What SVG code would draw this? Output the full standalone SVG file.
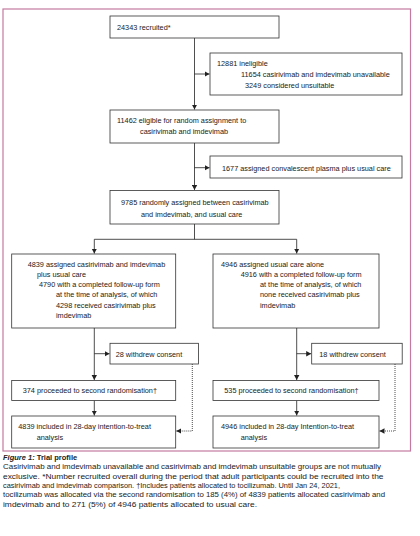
<svg xmlns="http://www.w3.org/2000/svg" width="420" height="536" viewBox="0 0 420 536">
<defs>
<marker id="ah" markerWidth="6" markerHeight="6" refX="5" refY="3" orient="auto" markerUnits="userSpaceOnUse">
<path d="M0,0.3 L5,3 L0,5.7 Z" fill="#222"/>
</marker>
<style>
.b{fill:#fff;stroke:#333;stroke-width:0.8}
.t{font-family:"Liberation Sans",Arial,sans-serif;font-size:7.3px;fill:#222}
.c{font-family:"Liberation Sans",Arial,sans-serif;font-size:7.5px;fill:#222}
.l{fill:none;stroke:#222;stroke-width:0.8}
.d{fill:none;stroke:#222;stroke-width:0.8;stroke-dasharray:1 1}
</style>
</defs>
<rect width="420" height="536" fill="#fff"/>
<rect x="3" y="9" width="407.5" height="442" fill="none" stroke="#c47a9f" stroke-width="1.2"/>
<g id="connectors">
<path class="l" d="M194.5,38 V109.5" marker-end="url(#ah)"/>
<path class="l" d="M194.5,74 H209.5" marker-end="url(#ah)"/>
<path class="l" d="M194.5,143 V190" marker-end="url(#ah)"/>
<path class="l" d="M194.5,167.7 H209.5" marker-end="url(#ah)"/>
<path class="l" d="M194.5,224 V239.3 M94.3,239.3 H296.7"/>
<path class="l" d="M94.3,239.3 V253.5" marker-end="url(#ah)"/>
<path class="l" d="M296.7,239.3 V253.5" marker-end="url(#ah)"/>
<path class="l" d="M94.3,328 V380" marker-end="url(#ah)"/>
<path class="l" d="M94.3,353.7 H109.5" marker-end="url(#ah)"/>
<path class="l" d="M296.7,328 V380" marker-end="url(#ah)"/>
<path class="l" d="M296.7,353.7 H311.2" marker-end="url(#ah)"/>
<path class="l" d="M94.3,400.5 V415.5" marker-end="url(#ah)"/>
<path class="l" d="M296.7,400.5 V415.5" marker-end="url(#ah)"/>
<path class="d" d="M192.3,364 V431 H177"/>
<path class="l" d="M180,431 H176.3" marker-end="url(#ah)"/>
<path class="d" d="M395,364 V431 H380.5"/>
<path class="l" d="M383,431 H379.5" marker-end="url(#ah)"/>
</g>
<g id="recruited">
<rect class="b" x="110" y="16" width="169" height="22"/>
<text class="t" x="117" y="29.5">24343 recruited*</text>
</g>
<g id="ineligible">
<rect class="b" x="210" y="53" width="192" height="42"/>
<text class="t" x="217" y="65.5">12881 ineligible</text>
<text class="t" x="241" y="76.5">11654 casirivimab and imdevimab unavailable</text>
<text class="t" x="245" y="87.5">3249 considered unsuitable</text>
</g>
<g id="eligible">
<rect class="b" x="110" y="110" width="169" height="33"/>
<text class="t" x="117" y="123">11462 eligible for random assignment  to</text>
<text class="t" x="140" y="134">casirivimab and imdevimab</text>
</g>
<g id="plasma">
<rect class="b" x="210" y="156" width="192" height="22"/>
<text class="t" x="222" y="170.5">1677 assigned convalescent plasma plus usual care</text>
</g>
<g id="randomised">
<rect class="b" x="110" y="190.5" width="169" height="33.5"/>
<text class="t" x="121" y="205">9785 randomly assigned between casirivimab</text>
<text class="t" x="141" y="216.5">and imdevimab, and usual care</text>
</g>
<g id="arm-casirivimab">
<rect class="b" x="11.7" y="254" width="164" height="74"/>
<text class="t" x="27.7" y="267.3">4839 assigned casirivimab and imdevimab</text>
<text class="t" x="37" y="277">plus usual care</text>
<text class="t" x="39" y="287.2">4790 with a completed follow-up form</text>
<text class="t" x="56" y="297">at the time of analysis, of which</text>
<text class="t" x="56" y="307.5">4298  received casirivimab plus</text>
<text class="t" x="56" y="318.3">imdevimab</text>
</g>
<g id="arm-usual">
<rect class="b" x="213" y="254" width="166" height="74"/>
<text class="t" x="221" y="267.3">4946 assigned usual care alone</text>
<text class="t" x="240.7" y="277">4916 with a completed follow-up form</text>
<text class="t" x="260" y="287.2">at the time of analysis, of which</text>
<text class="t" x="260" y="297">none received casirivimab plus</text>
<text class="t" x="260" y="307.5">imdevimab</text>
</g>
<g id="withdrew-left">
<rect class="b" x="110" y="343.3" width="88.5" height="20.7"/>
<text class="t" x="115.7" y="356.7">28 withdrew consent</text>
</g>
<g id="withdrew-right">
<rect class="b" x="311.7" y="343.3" width="90.5" height="20.7"/>
<text class="t" x="319.3" y="356.7">18 withdrew consent</text>
</g>
<g id="second-left">
<rect class="b" x="11.7" y="380.5" width="164" height="20"/>
<text class="t" x="22.7" y="393">374 proceeded to second randomisation†</text>
</g>
<g id="second-right">
<rect class="b" x="213" y="380.5" width="166" height="20"/>
<text class="t" x="224.3" y="393">535 proceeded to second randomisation†</text>
</g>
<g id="itt-left">
<rect class="b" x="11.7" y="416" width="164" height="32"/>
<text class="t" x="18.3" y="429.3">4839 included in 28-day intention-to-treat</text>
<text class="t" x="36.7" y="440">analysis</text>
</g>
<g id="itt-right">
<rect class="b" x="213" y="416" width="166" height="32"/>
<text class="t" x="221" y="429.3">4946 included in 28-day Intention-to-treat</text>
<text class="t" x="240.7" y="440">analysis</text>
</g>
<g id="caption">
<text class="c" x="3" y="460" font-weight="bold"><tspan font-style="italic">Figure 1:</tspan> Trial profile</text>
<text class="c" x="3" y="469.3" textLength="378" lengthAdjust="spacingAndGlyphs">Casirivimab and imdevimab unavailable and casirivimab and imdevimab unsuitable groups are not mutually</text>
<text class="c" x="3" y="478.6" textLength="380.5" lengthAdjust="spacingAndGlyphs">exclusive. *Number recruited overall during the period that adult participants could be recruited into the</text>
<text class="c" x="3" y="487.9" textLength="337" lengthAdjust="spacingAndGlyphs">casirivimab and imdevimab comparison. †Includes patients allocated to tocilizumab. Until Jan 24, 2021,</text>
<text class="c" x="3" y="497.2" textLength="382" lengthAdjust="spacingAndGlyphs">tocilizumab was allocated via the second randomisation to 185 (4%) of 4839 patients allocated casirivimab and</text>
<text class="c" x="3" y="506.5" textLength="254" lengthAdjust="spacingAndGlyphs">imdevimab and to 271 (5%) of 4946 patients allocated to usual care.</text>
</g>
</svg>
